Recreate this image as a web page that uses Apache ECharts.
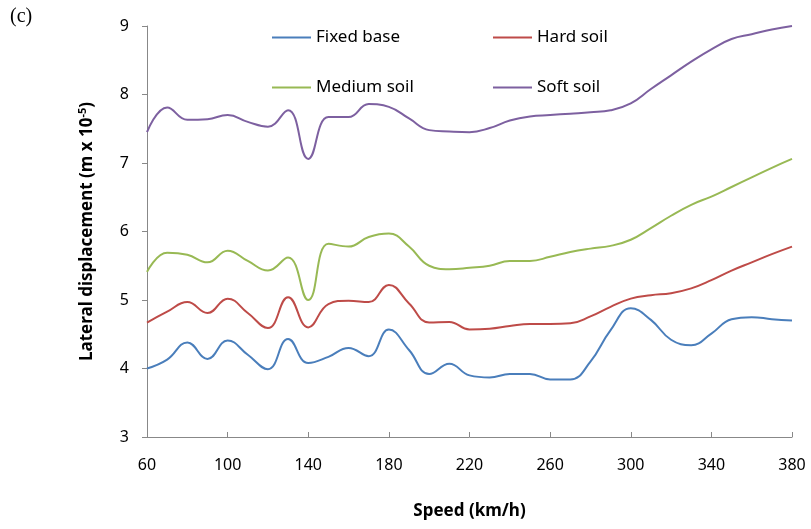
<!DOCTYPE html>
<html><head><meta charset="utf-8">
<script src="https://cdn.jsdelivr.net/npm/echarts@6/dist/echarts.min.js"></script>
<style>html,body{margin:0;padding:0;background:#fff}#c{width:811px;height:529px}</style>
</head><body><div id="c"></div>
<script>
const speeds = [60,70,80,90,100,110,120,130,140,150,160,170,180,190,200,210,220,230,240,250,260,270,280,290,300,310,320,330,340,350,360,370,380];
const fixedBase = [4.00,4.13,4.38,4.14,4.41,4.20,3.99,4.43,4.08,4.17,4.30,4.18,4.57,4.27,3.92,4.07,3.90,3.87,3.92,3.92,3.84,3.84,4.10,4.56,4.88,4.71,4.42,4.34,4.51,4.72,4.75,4.72,4.70];
const hardSoil = [4.67,4.83,4.97,4.81,5.02,4.81,4.59,5.04,4.60,4.94,4.99,4.97,5.22,4.95,4.67,4.68,4.57,4.58,4.62,4.65,4.65,4.66,4.76,4.90,5.02,5.07,5.10,5.17,5.29,5.43,5.55,5.67,5.78];
const mediumSoil = [5.41,5.69,5.66,5.55,5.72,5.57,5.43,5.62,5.00,5.82,5.78,5.92,5.97,5.78,5.50,5.45,5.47,5.50,5.57,5.57,5.63,5.70,5.75,5.79,5.88,6.05,6.23,6.39,6.51,6.65,6.79,6.93,7.06];
const softSoil = [7.45,7.81,7.63,7.64,7.70,7.60,7.53,7.77,7.06,7.67,7.67,7.86,7.82,7.65,7.48,7.46,7.45,7.51,7.62,7.68,7.70,7.72,7.74,7.77,7.87,8.08,8.28,8.48,8.66,8.81,8.88,8.95,9.00];
const seriesNames = ['Fixed base','Hard soil','Medium soil','Soft soil'];
const colors = ['#4a7ebb','#be4b48','#98b954','#7d60a0'];
const xTicks = [60,100,140,180,220,260,300,340,380];
const yTicks = [3,4,5,6,7,8,9];

const font = 'Noto Sans';
const chart = echarts.init(document.getElementById('c'));
const allData = [fixedBase, hardSoil, mediumSoil, softSoil];
const legendPos = [[267,24],[488,24],[267,74],[488,74]];
chart.setOption({
  animation:false,
  title:{text:'(c)',left:5,top:2,textStyle:{fontFamily:'Liberation Serif',fontSize:20,fontWeight:'normal',color:'#000'}},
  legend: seriesNames.map((n,i)=>({
    data:[n], left:legendPos[i][0], top:legendPos[i][1], icon:'rect', itemWidth:39, itemHeight:2, itemGap:7,
    textStyle:{fontFamily:font,fontSize:17,color:'#000'}
  })),
  grid:{left:147,right:19,top:26,bottom:92},
  xAxis:{type:'value',min:60,max:380,interval:40,
    name:'Speed (km/h)',nameLocation:'middle',nameGap:66,
    nameTextStyle:{fontFamily:font,fontSize:17,fontWeight:'bold',color:'#000'},
    axisLine:{lineStyle:{color:'#888',width:1}},
    axisTick:{inside:true,length:5,lineStyle:{color:'#888'}},
    axisLabel:{fontFamily:font,fontSize:16,color:'#000',margin:20},
    splitLine:{show:false}},
  yAxis:{type:'value',min:3,max:9,interval:1,
    name:'Lateral displacement (m x 10{sup|-5})',nameLocation:'middle',nameGap:50,
    nameTextStyle:{fontFamily:font,fontSize:17,fontWeight:'bold',color:'#000',
      rich:{sup:{fontFamily:font,fontSize:11,fontWeight:'bold',color:'#000',verticalAlign:'bottom',padding:[0,0,9,0]}}},
    axisLine:{show:true,lineStyle:{color:'#888',width:1}},
    axisTick:{show:true,length:5,lineStyle:{color:'#888'}},
    axisLabel:{fontFamily:font,fontSize:16,color:'#000',margin:18},
    splitLine:{show:false}},
  series: allData.map((d,i)=>({
    name:seriesNames[i], type:'line', smooth:0.45, symbol:'none',
    data: speeds.map((s,j)=>[s,d[j]]),
    lineStyle:{color:colors[i],width:2}, itemStyle:{color:colors[i]}
  }))
});
</script></body></html>
